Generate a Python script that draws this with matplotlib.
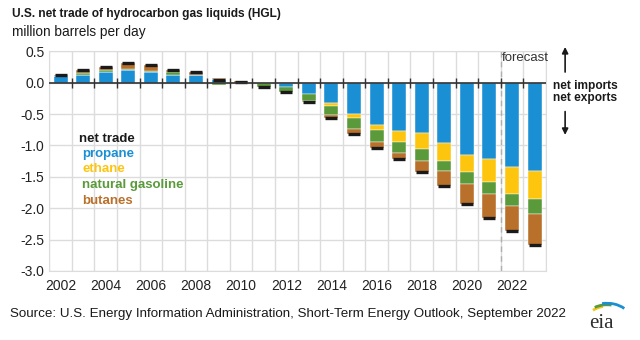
import numpy as np
import matplotlib.pyplot as plt
from matplotlib.patches import FancyArrowPatch, Arc

plt.rcParams['font.family'] = ['Liberation Sans', 'DejaVu Sans']

# net trade, million barrels per day (positive = net imports)
years = np.arange(2002, 2024)
propane = [0.10, 0.12, 0.17, 0.195, 0.17, 0.13, 0.12, 0.06, 0.0, 0.0, -0.07, -0.185,
           -0.33, -0.50, -0.67, -0.77, -0.795, -0.955, -1.15, -1.21, -1.35, -1.405]
ethane = [0, 0, 0, 0, 0, 0, 0, 0, 0, 0, 0, 0,
          -0.035, -0.07, -0.09, -0.175, -0.265, -0.285, -0.27, -0.375, -0.43, -0.455]
natgas = [0.01, 0.04, 0.03, 0.03, 0.01, 0.035, 0.01, -0.03, -0.01, -0.07, -0.085, -0.105,
          -0.15, -0.17, -0.185, -0.17, -0.18, -0.17, -0.19, -0.195, -0.18, -0.23]
butanes = [0.02, 0.04, 0.055, 0.09, 0.10, 0.035, 0.045, 0.01, 0.02, 0.0, 0.0, -0.01,
           -0.055, -0.08, -0.09, -0.105, -0.175, -0.23, -0.33, -0.37, -0.40, -0.50]

series = [('propane', propane, '#1a8fd4'),
          ('ethane', ethane, '#fec50f'),
          ('natural gasoline', natgas, '#5a9a3b'),
          ('butanes', butanes, '#b9702b')]

fig = plt.figure(figsize=(6.4, 3.4), dpi=100)
ax = fig.add_axes([0.077, 0.203, 0.776, 0.646])

pos_base = np.zeros(len(years))
neg_base = np.zeros(len(years))
for name, vals, col in series:
    v = np.array(vals, dtype=float)
    base = np.where(v >= 0, pos_base, neg_base)
    ax.bar(years, v, bottom=base, width=0.62, color=col, edgecolor='white', linewidth=0.3, zorder=3)
    pos_base += np.where(v >= 0, v, 0)
    neg_base += np.where(v < 0, v, 0)

net = pos_base + neg_base
ax.plot(years, net, ls='none', marker='_', ms=8, mew=2.4, color='#1a1a1a', zorder=4)

# zero line with boundary tick marks
ax.axhline(0, color='#333333', lw=1.2, zorder=5)
ax.plot(years[1:] - 0.5, np.zeros(len(years) - 1), ls='none', marker='|', ms=7, mew=1,
        color='#333333', zorder=5)

ax.set_xlim(2001.5, 2023.5)
ax.set_ylim(-3.0, 0.5)
ax.set_yticks(np.arange(-3.0, 0.51, 0.5))
ax.set_yticklabels([f'{t:.1f}' for t in np.arange(-3.0, 0.51, 0.5)])
ax.set_xticks(years[::2])
ax.set_xticks(np.append(years - 0.5, 2023.5), minor=True)
ax.tick_params(axis='both', length=0, labelsize=10, colors='#222222', which='both')
ax.tick_params(axis='x', pad=6)
ax.grid(axis='y', color='#dcdcdc', lw=1, zorder=0)
ax.grid(axis='x', which='minor', color='#dcdcdc', lw=1, zorder=0)
for s in ax.spines.values():
    s.set_color('#dcdcdc')

# forecast divider
ax.axvline(2021.5, color='#b0b0b0', ls=(0, (4, 3)), lw=1, zorder=2)
ax.text(2021.55, 0.39, 'forecast', fontsize=9.5, color='#333333', ha='left', va='center')

# legend as text
ax.text(2002.8, -0.89, 'net trade', fontsize=9.5, fontweight='bold', color='#1a1a1a', va='center')
ly = -1.13
for name, vals, col in series:
    ax.text(2002.95, ly, name, fontsize=9.5, fontweight='bold', color=col, va='center')
    ly -= 0.25

fig.text(0.018, 0.958, 'U.S. net trade of hydrocarbon gas liquids (HGL)', fontsize=8.6,
         fontweight='bold', color='#1a1a1a', va='center')
fig.text(0.018, 0.905, 'million barrels per day', fontsize=9.8, color='#1a1a1a', va='center')

fig.text(0.864, 0.748, 'net imports', fontsize=8.6, fontweight='bold', color='#1a1a1a', va='center')
fig.text(0.864, 0.712, 'net exports', fontsize=8.6, fontweight='bold', color='#1a1a1a', va='center')
fig.patches.append(FancyArrowPatch(
    (0.883, 0.78), (0.883, 0.87), transform=fig.transFigure, arrowstyle='-|>',
    mutation_scale=9, color='#1a1a1a', lw=1.2))
fig.patches.append(FancyArrowPatch(
    (0.883, 0.68), (0.883, 0.595), transform=fig.transFigure, arrowstyle='-|>',
    mutation_scale=9, color='#1a1a1a', lw=1.2))

fig.text(0.016, 0.075, 'Source: U.S. Energy Information Administration, Short-Term Energy Outlook, September 2022',
         fontsize=9.6, color='#1a1a1a', va='center')

# eia logo
lax = fig.add_axes([585 / 640, 8 / 340, 45 / 640, 45 / 340])
lax.set_xlim(0, 45)
lax.set_ylim(0, 45)
lax.axis('off')
lax.text(16, 9, 'eia', fontsize=15, family=['Liberation Serif', 'DejaVu Serif'],
         color='#2e2e2e', ha='center', va='center')
for r, col, t1, t2 in [(21, '#f5c518', 105, 140), (23, '#5a9a3b', 75, 130), (25, '#1a8fd4', 38, 105)]:
    lax.add_patch(Arc((22, 10), 2 * r, 2 * r * 0.75, theta1=t1, theta2=t2, color=col, lw=2.0,
                      clip_on=False))

fig.savefig('out.png', dpi=100)
